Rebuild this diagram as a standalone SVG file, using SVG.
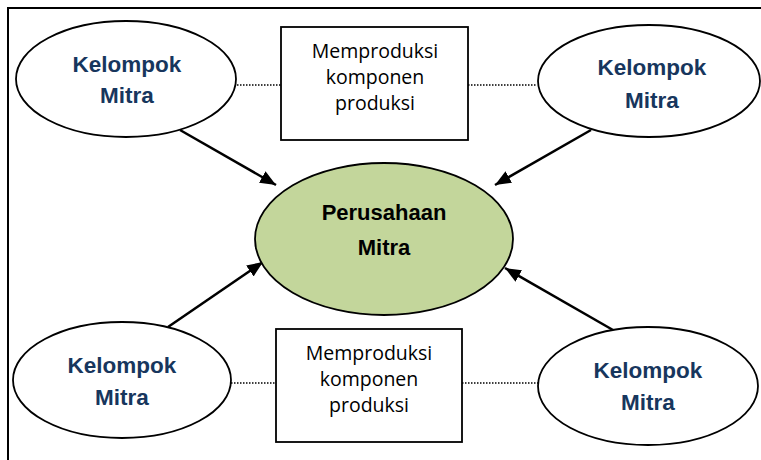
<svg xmlns="http://www.w3.org/2000/svg" width="761" height="460" viewBox="0 0 761 460">
<defs>
<marker id="ah" viewBox="0 0 12 10" refX="12" refY="5" markerWidth="6.4" markerHeight="5.3" markerUnits="strokeWidth" orient="auto">
<path d="M0,0 L12,5 L0,10 z" fill="#000"/>
</marker>
<style>
.el{fill:#fff;stroke:#000;stroke-width:1.8}
.box{fill:#fff;stroke:#000;stroke-width:1.8}
.kt{font-family:"Liberation Sans",Arial,sans-serif;font-weight:bold;font-size:22.5px;fill:#17365D;text-anchor:middle}
.ct{font-family:"Liberation Sans",Arial,sans-serif;font-weight:bold;font-size:22px;fill:#000;text-anchor:middle}
.bt{font-family:"Open Sans","Liberation Sans",sans-serif;font-size:19.5px;fill:#000;text-anchor:middle}
.dot{stroke:#000;stroke-width:1.4;stroke-dasharray:1.5 1.5;fill:none}
.arr{stroke:#000;stroke-width:2.5;fill:none;marker-end:url(#ah)}
</style>
</defs>
<rect width="761" height="460" fill="#fff"/>
<path d="M8,470 L8,8 L770,8" fill="none" stroke="#000" stroke-width="2"/>
<g id="connectors">
<line class="dot" x1="237" y1="85" x2="281" y2="85"/>
<line class="dot" x1="468" y1="85" x2="537" y2="85"/>
<line class="dot" x1="231" y1="383" x2="276" y2="383"/>
<line class="dot" x1="462" y1="383" x2="538" y2="383"/>
<line class="arr" x1="180" y1="130" x2="276" y2="185"/>
<line class="arr" x1="591" y1="130" x2="495" y2="185"/>
<line class="arr" x1="168" y1="327" x2="263" y2="262"/>
<line class="arr" x1="613" y1="330" x2="505" y2="268"/>
</g>
<g id="center">
<ellipse cx="384" cy="239" rx="129" ry="76" fill="#C3D69B" stroke="#000" stroke-width="1.8"/>
<text class="ct" x="384" y="220">Perusahaan</text>
<text class="ct" x="384" y="255">Mitra</text>
</g>
<g id="tl">
<ellipse class="el" cx="126" cy="79" rx="110" ry="58"/>
<text class="kt" x="127" y="72">Kelompok</text>
<text class="kt" x="127" y="103">Mitra</text>
</g>
<g id="tr">
<ellipse class="el" cx="649" cy="81" rx="111" ry="56"/>
<text class="kt" x="652" y="75">Kelompok</text>
<text class="kt" x="652" y="108">Mitra</text>
</g>
<g id="bl">
<ellipse class="el" cx="122" cy="380" rx="109" ry="58"/>
<text class="kt" x="122" y="373">Kelompok</text>
<text class="kt" x="122" y="405">Mitra</text>
</g>
<g id="br">
<ellipse class="el" cx="648" cy="386" rx="110" ry="59"/>
<text class="kt" x="648" y="378">Kelompok</text>
<text class="kt" x="648" y="410">Mitra</text>
</g>
<g id="boxTop">
<rect class="box" x="281" y="27" width="187" height="113"/>
<text class="bt" x="375" y="58">Memproduksi</text>
<text class="bt" x="375" y="84">komponen</text>
<text class="bt" x="375" y="110">produksi</text>
</g>
<g id="boxBottom">
<rect class="box" x="276" y="329" width="186" height="113"/>
<text class="bt" x="369" y="360">Memproduksi</text>
<text class="bt" x="369" y="386">komponen</text>
<text class="bt" x="369" y="412">produksi</text>
</g>
</svg>
